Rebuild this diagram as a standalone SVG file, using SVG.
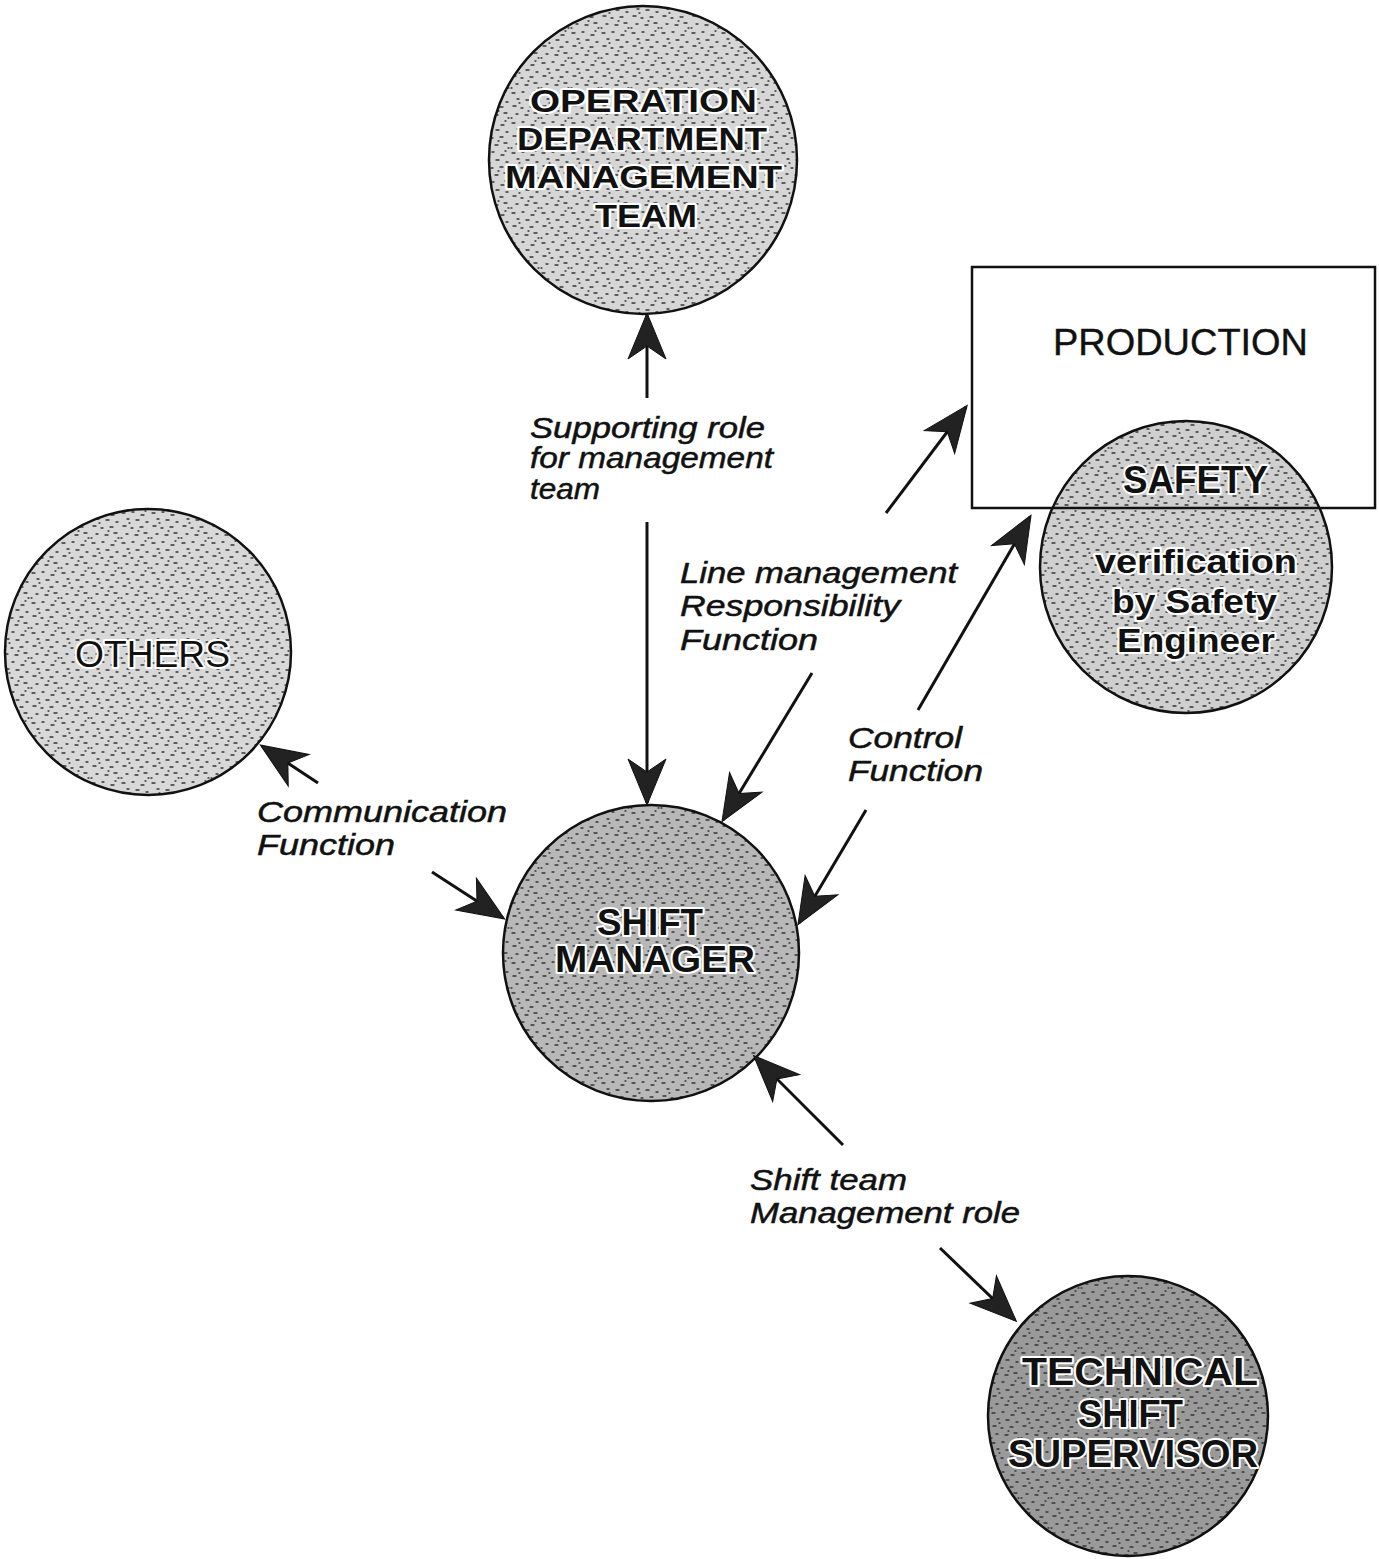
<svg xmlns="http://www.w3.org/2000/svg" width="1379" height="1559" viewBox="0 0 1379 1559">
<defs>
<style>
.node{stroke:#111;stroke-width:2.5}
.big{font-family:"Liberation Sans",Arial,sans-serif;fill:#111;stroke:#fff;stroke-width:4;paint-order:stroke;stroke-linejoin:round}
.lbl{font-family:"Liberation Sans",Arial,sans-serif;font-style:italic;font-size:29px;fill:#111;stroke:#111;stroke-width:0.5}
.conn{stroke:#111;stroke-width:3;fill:none;marker-end:url(#ah)}
</style>
<pattern id="stip" width="30" height="30" patternUnits="userSpaceOnUse">
<g stroke="#333" stroke-width="1.3" stroke-linecap="round">
<path d="M2,3h3M12,2h2M21,5h3M7,9h2M16,10h3M26,12h2M3,16h3M11,18h2M20,17h3M6,24h2M15,25h3M24,23h3M28,28h1M1,28h1M9,13h1M18,21h1M25,1h1"/>
</g>
</pattern>
<marker id="ah" markerUnits="userSpaceOnUse" markerWidth="60" markerHeight="60" refX="0" refY="0" orient="auto" overflow="visible">
<path d="M2,0 L-44,-19 L-31,0 L-44,19 Z" fill="#222" stroke="#111" stroke-width="1"/>
</marker>
</defs>
<rect width="1379" height="1559" fill="#fff"/>

<g id="operation-dept">
<circle cx="643" cy="160" r="154" fill="#d6d6d6"/>
<circle class="node" cx="643" cy="160" r="154" fill="url(#stip)"/>
<text class="big" font-size="31" font-weight="bold" x="530" y="112" textLength="227" lengthAdjust="spacingAndGlyphs">OPERATION</text>
<text class="big" font-size="31" font-weight="bold" x="517" y="150" textLength="250" lengthAdjust="spacingAndGlyphs">DEPARTMENT</text>
<text class="big" font-size="31" font-weight="bold" x="505" y="188" textLength="277" lengthAdjust="spacingAndGlyphs">MANAGEMENT</text>
<text class="big" font-size="31" font-weight="bold" x="595" y="227" textLength="102" lengthAdjust="spacingAndGlyphs">TEAM</text>
</g>

<g id="others">
<circle cx="148" cy="652" r="143" fill="#d8d8d8"/>
<circle class="node" cx="148" cy="652" r="143" fill="url(#stip)"/>
<text class="big" font-size="37" x="75" y="667" textLength="155" lengthAdjust="spacingAndGlyphs">OTHERS</text>
</g>

<g id="shift-manager">
<circle cx="651" cy="953" r="148" fill="#b8b8b8"/>
<circle class="node" cx="651" cy="953" r="148" fill="url(#stip)"/>
<text class="big" font-size="37" font-weight="bold" x="597" y="935" textLength="106" lengthAdjust="spacingAndGlyphs">SHIFT</text>
<text class="big" font-size="37" font-weight="bold" x="555" y="972" textLength="200" lengthAdjust="spacingAndGlyphs">MANAGER</text>
</g>

<g id="safety">
<circle cx="1186" cy="567" r="146" fill="#cfcfcf"/>
<circle class="node" cx="1186" cy="567" r="146" fill="url(#stip)"/>
<text class="big" font-size="38" font-weight="bold" x="1123" y="493" textLength="145" lengthAdjust="spacingAndGlyphs">SAFETY</text>
<text class="big" font-size="34" font-weight="bold" x="1095" y="573" textLength="202" lengthAdjust="spacingAndGlyphs">verification</text>
<text class="big" font-size="34" font-weight="bold" x="1112" y="613" textLength="165" lengthAdjust="spacingAndGlyphs">by Safety</text>
<text class="big" font-size="34" font-weight="bold" x="1117" y="652" textLength="158" lengthAdjust="spacingAndGlyphs">Engineer</text>
</g>

<g id="production">
<rect x="972" y="267" width="403" height="241" fill="none" stroke="#111" stroke-width="2.5"/>
<text font-family="Liberation Sans, Arial, sans-serif" font-size="37" fill="#111" stroke="#111" stroke-width="0.4" x="1053" y="355" textLength="255" lengthAdjust="spacingAndGlyphs">PRODUCTION</text>
</g>

<g id="technical-shift-supervisor">
<circle cx="1128" cy="1416" r="140" fill="#9a9a9a"/>
<circle class="node" cx="1128" cy="1416" r="140" fill="url(#stip)"/>
<text class="big" font-size="38" font-weight="bold" x="1022" y="1385" textLength="236" lengthAdjust="spacingAndGlyphs">TECHNICAL</text>
<text class="big" font-size="38" font-weight="bold" x="1078" y="1427" textLength="105" lengthAdjust="spacingAndGlyphs">SHIFT</text>
<text class="big" font-size="38" font-weight="bold" x="1008" y="1467" textLength="250" lengthAdjust="spacingAndGlyphs">SUPERVISOR</text>
</g>

<g id="connectors">
<line class="conn" x1="647" y1="398" x2="647" y2="315"/>
<line class="conn" x1="647" y1="522" x2="647" y2="803"/>
<line class="conn" x1="812" y1="673" x2="723" y2="820"/>
<line class="conn" x1="886" y1="513" x2="966" y2="407"/>
<line class="conn" x1="918" y1="710" x2="1030" y2="517"/>
<line class="conn" x1="866" y1="810" x2="799" y2="923"/>
<line class="conn" x1="318" y1="783" x2="262" y2="746"/>
<line class="conn" x1="432" y1="872" x2="503" y2="918"/>
<line class="conn" x1="843" y1="1145" x2="755" y2="1057"/>
<line class="conn" x1="940" y1="1248" x2="1015" y2="1320"/>
</g>

<g id="labels">
<text class="lbl" font-size="27" x="530" y="438" textLength="235" lengthAdjust="spacingAndGlyphs">Supporting role</text>
<text class="lbl" font-size="27" x="530" y="468" textLength="243" lengthAdjust="spacingAndGlyphs">for management</text>
<text class="lbl" font-size="27" x="530" y="499" textLength="70" lengthAdjust="spacingAndGlyphs">team</text>
<text class="lbl" x="680" y="583" textLength="277" lengthAdjust="spacingAndGlyphs">Line management</text>
<text class="lbl" x="680" y="616" textLength="220" lengthAdjust="spacingAndGlyphs">Responsibility</text>
<text class="lbl" x="680" y="650" textLength="138" lengthAdjust="spacingAndGlyphs">Function</text>
<text class="lbl" x="848" y="748" textLength="114" lengthAdjust="spacingAndGlyphs">Control</text>
<text class="lbl" x="848" y="781" textLength="135" lengthAdjust="spacingAndGlyphs">Function</text>
<text class="lbl" x="257" y="822" textLength="250" lengthAdjust="spacingAndGlyphs">Communication</text>
<text class="lbl" x="257" y="855" textLength="138" lengthAdjust="spacingAndGlyphs">Function</text>
<text class="lbl" x="750" y="1190" textLength="157" lengthAdjust="spacingAndGlyphs">Shift team</text>
<text class="lbl" x="750" y="1223" textLength="270" lengthAdjust="spacingAndGlyphs">Management role</text>
</g>
</svg>
